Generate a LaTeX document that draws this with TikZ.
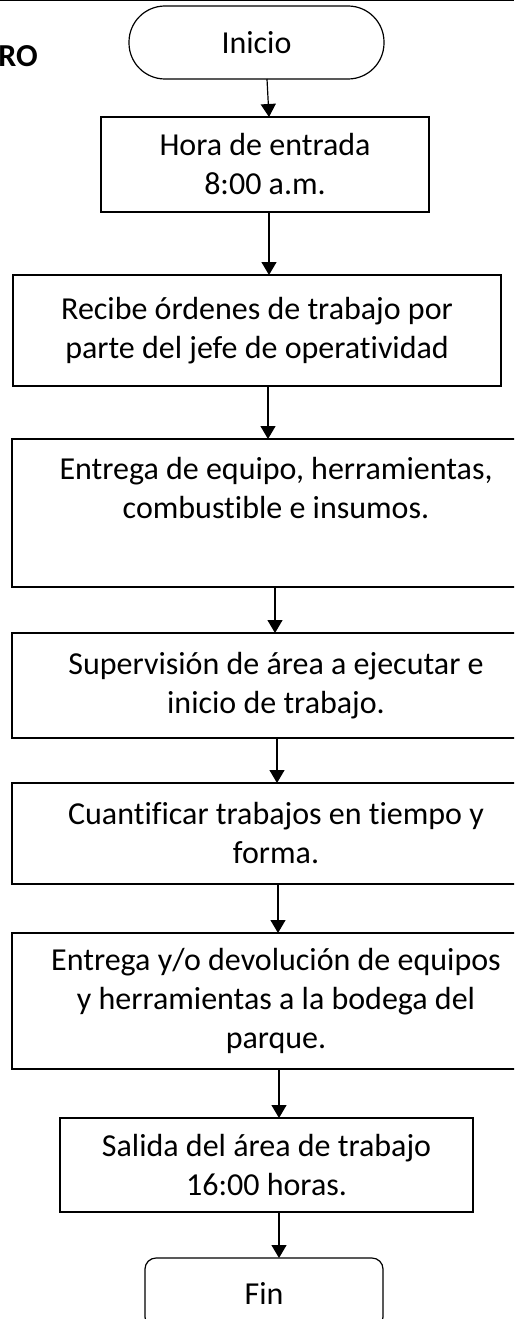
\documentclass[tikz,border=0pt]{standalone}
\usepackage{fontspec}
\setmainfont{Carlito}[Ligatures=NoCommon]
\usetikzlibrary{arrows.meta,positioning}

\begin{document}
\begin{tikzpicture}[font=\fontsize{32}{39}\selectfont,caja/.style={draw,line width=1.2pt,align=center,inner sep=0pt,outer sep=0pt},term/.style={caja,rounded corners=36pt},fin/.style={caja,rounded corners=11pt},flecha/.style={-{Triangle[width=15pt,length=13pt]},line width=1.2pt}]
\useasboundingbox (0,0) rectangle (514pt,-1319pt);
\clip (0,0) rectangle (514pt,-1319pt);
\draw[line width=1pt] (0,-1pt) -- (514pt,-1pt);
\node[font=\fontsize{32}{39}\selectfont\bfseries,anchor=base east,inner sep=0pt] (titulo) at (38pt,-67pt) {RO};
\node[term,minimum width=255pt,minimum height=73pt] (inicio) at (256.5pt,-42.5pt) {Inicio};
\node[caja,minimum width=328pt,minimum height=95pt,below=38pt of inicio,xshift=8.5pt] (hora) {Hora de entrada\\8:00 a.m.};
\node[caja,minimum width=488pt,minimum height=111pt,below=63pt of hora,xshift=-8pt] (ordenes) {Recibe órdenes de trabajo por\\parte del jefe de operatividad};
\node[caja,minimum width=528pt,minimum height=148pt,below=53pt of ordenes,xshift=19pt] (equipo) {Entrega de equipo, herramientas,\\combustible e insumos.\\ \strut};
\node[caja,minimum width=528pt,minimum height=105pt,below=46pt of equipo] (superv) {Supervisión de área a ejecutar e\\inicio de trabajo.};
\node[caja,minimum width=528pt,minimum height=101pt,below=45pt of superv] (cuant) {Cuantificar trabajos en tiempo y\\forma.};
\node[caja,minimum width=528pt,minimum height=136pt,below=49pt of cuant] (devol) {Entrega y/o devolución de equipos\\y herramientas a la bodega del\\parque.};
\node[caja,minimum width=413pt,minimum height=94pt,below=49pt of devol,xshift=-9.5pt] (salida) {Salida del área de trabajo\\16:00 horas.};
\node[fin,minimum width=238pt,minimum height=70pt,below=46pt of salida,xshift=-2.5pt] (final) {Fin};
\draw[flecha] ([xshift=10.5pt]inicio.south) -- ([xshift=4pt]hora.north);
\draw[flecha] ([xshift=4pt]hora.south) -- ([xshift=12pt]ordenes.north);
\draw[flecha] ([xshift=11pt]ordenes.south) -- ([xshift=-8pt]equipo.north);
\draw[flecha] ([xshift=-1pt]equipo.south) -- ([xshift=-1pt]superv.north);
\draw[flecha] ([xshift=1pt]superv.south) -- ([xshift=1pt]cuant.north);
\draw[flecha] ([xshift=2pt]cuant.south) -- ([xshift=2pt]devol.north);
\draw[flecha] ([xshift=3pt]devol.south) -- ([xshift=12.5pt]salida.north);
\draw[flecha] ([xshift=12.5pt]salida.south) -- ([xshift=15pt]final.north);
\end{tikzpicture}
\end{document}
